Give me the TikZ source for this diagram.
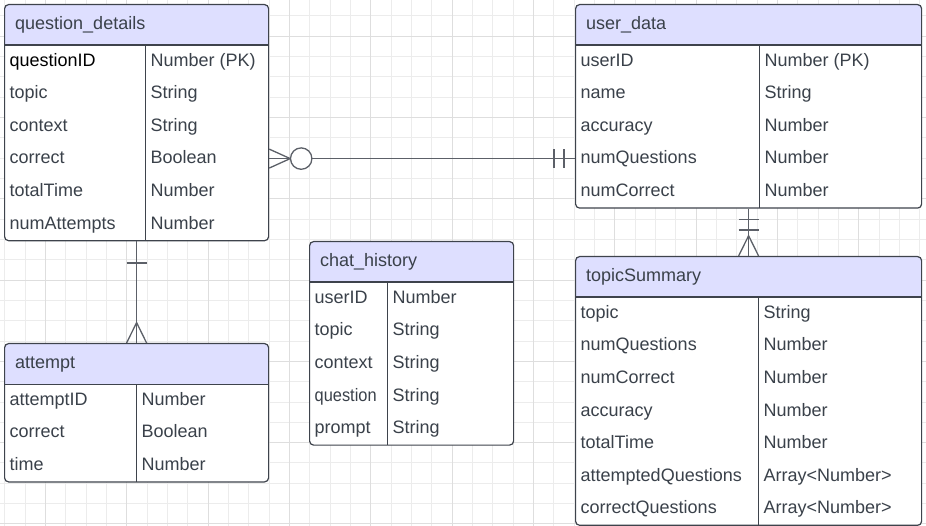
\documentclass[tikz,border=0pt]{standalone}
\usepackage{fontspec}
\setmainfont{Liberation Sans}
\usepackage{xcolor}
\usepackage{tikz}

\definecolor{hdrfill}{RGB}{222,223,255}
\definecolor{edge}{RGB}{62,67,76}
\definecolor{txt}{RGB}{58,65,74}
\definecolor{conncol}{RGB}{92,96,104}
\definecolor{gridminor}{RGB}{236,236,236}
\definecolor{gridmajor}{RGB}{222,222,222}

\begin{document}
\begin{tikzpicture}[x=1pt,y=-1pt,
	erd/.style={rectangle,draw=edge,fill=white,line width=1.2pt,rounded corners=4pt,anchor=north west,inner sep=0pt,
		path picture={
			\fill[hdrfill,sharp corners] (path picture bounding box.north west) rectangle ([yshift=-40.5pt]path picture bounding box.north east);
			\draw[edge,line width=1.2pt] ([yshift=-40.5pt]path picture bounding box.north west) -- ([yshift=-40.5pt]path picture bounding box.north east);
			\draw[edge,line width=1.2pt] ([xshift=#1,yshift=-40.5pt]path picture bounding box.north west) -- ([xshift=#1]path picture bounding box.south west);
		}},
	title/.style={anchor=west,inner sep=0pt,text=txt,font=\fontsize{18pt}{20pt}\selectfont,text height=14.4pt,text depth=3.6pt},
	field/.style={title},
	conn/.style={draw=conncol,line width=1.3pt},
	zero/.style={circle,draw=conncol,fill=white,line width=1.3pt,minimum size=21.4pt,inner sep=0pt},
	gridline/.style={draw=gridminor,line width=1pt},
	gridmajorline/.style={draw=gridmajor,line width=1pt}]

\useasboundingbox (0,0) rectangle (926,526);

% background grid
\foreach \k in {0,...,45} \draw[gridline] ({4.9+\k*20.33},0) -- ({4.9+\k*20.33},526);
\foreach \k in {0,...,26} \draw[gridline] (0,{-4.6+\k*20.33}) -- (926,{-4.6+\k*20.33});
\foreach \k in {2,6,...,42} \draw[gridmajorline] ({4.9+\k*20.33},0) -- ({4.9+\k*20.33},526);
\foreach \k in {2,6,...,26} \draw[gridmajorline] (0,{-4.6+\k*20.33}) -- (926,{-4.6+\k*20.33});

% question_details
\node[erd=141pt,minimum width=264pt,minimum height=236.1pt] (qd) at (4,4) {};
\node[title] (qdTitle) at ([xshift=11pt,yshift=-20.25pt]qd.north west) {question\_details};
\node[field,text=black] (qdF1) at ([xshift=5.5pt,yshift=-56.8pt]qd.north west) {questionID};
\node[field] (qdT1) at ([xshift=146.5pt,yshift=-56.8pt]qd.north west) {Number (PK)};
\foreach \f/\t [count=\i from 2] in {topic/String,context/String,correct/Boolean,totalTime/Number,numAttempts/Number}{
	\node[field] (qdF\i) at ([xshift=5.5pt,yshift={-40.5pt-(\i-0.5)*32.6pt}]qd.north west) {\f};
	\node[field] (qdT\i) at ([xshift=146.5pt,yshift={-40.5pt-(\i-0.5)*32.6pt}]qd.north west) {\t};
}

% user_data
\node[erd=184pt,minimum width=346pt,minimum height=203.5pt] (ud) at (575,4) {};
\node[title] (udTitle) at ([xshift=11pt,yshift=-20.25pt]ud.north west) {user\_data};
\foreach \f/\t [count=\i] in {userID/Number (PK),name/String,accuracy/Number,numQuestions/Number,numCorrect/Number}{
	\node[field] (udF\i) at ([xshift=5.5pt,yshift={-40.5pt-(\i-0.5)*32.6pt}]ud.north west) {\f};
	\node[field] (udT\i) at ([xshift=189.5pt,yshift={-40.5pt-(\i-0.5)*32.6pt}]ud.north west) {\t};
}

% topicSummary
\node[erd=183pt,minimum width=346pt,minimum height=268.7pt] (ts) at (575,256) {};
\node[title] (tsTitle) at ([xshift=11pt,yshift=-20.25pt]ts.north west) {topicSummary};
\foreach \f/\t [count=\i] in {topic/String,numQuestions/Number,numCorrect/Number,accuracy/Number,totalTime/Number,attemptedQuestions/Array<Number>,correctQuestions/Array<Number>}{
	\node[field] (tsF\i) at ([xshift=5.5pt,yshift={-40.5pt-(\i-0.5)*32.6pt}]ts.north west) {\f};
	\node[field] (tsT\i) at ([xshift=188.5pt,yshift={-40.5pt-(\i-0.5)*32.6pt}]ts.north west) {\t};
}

% chat_history
\node[erd=78pt,minimum width=204pt,minimum height=203.5pt] (ch) at (309,241) {};
\node[title] (chTitle) at ([xshift=11pt,yshift=-20.25pt]ch.north west) {chat\_history};
\foreach \f/\t [count=\i] in {userID/Number,topic/String,context/String,{\addfontfeature{FakeStretch=0.91}question}/String,prompt/String}{
	\node[field] (chF\i) at ([xshift=5.5pt,yshift={-40.5pt-(\i-0.5)*32.6pt}]ch.north west) {\f};
	\node[field] (chT\i) at ([xshift=83.5pt,yshift={-40.5pt-(\i-0.5)*32.6pt}]ch.north west) {\t};
}

% attempt
\node[erd=132pt,minimum width=264pt,minimum height=138.3pt] (at) at (4,343) {};
\node[title] (atTitle) at ([xshift=11pt,yshift=-20.25pt]at.north west) {attempt};
\foreach \f/\t [count=\i] in {attemptID/Number,correct/Boolean,time/Number}{
	\node[field] (atF\i) at ([xshift=5.5pt,yshift={-40.5pt-(\i-0.5)*32.6pt}]at.north west) {\f};
	\node[field] (atT\i) at ([xshift=137.5pt,yshift={-40.5pt-(\i-0.5)*32.6pt}]at.north west) {\t};
}

% question_details >o----|| user_data
\coordinate (qdEnd) at (qdF4.west -| qd.east);
\coordinate (udEnd) at (udF4.west -| ud.west);
\draw[conn] (qdEnd) -- (udEnd);
\draw[conn] ([yshift=9.5pt]qdEnd) -- ([xshift=21pt]qdEnd) -- ([yshift=-9.5pt]qdEnd);
\node[zero] (qdZero) at ([xshift=32pt]qdEnd) {};
\draw[conn] ([xshift=-21pt,yshift=9.5pt]udEnd) -- ([xshift=-21pt,yshift=-9.5pt]udEnd);
\draw[conn] ([xshift=-11pt,yshift=9.5pt]udEnd) -- ([xshift=-11pt,yshift=-9.5pt]udEnd);

% question_details |----< attempt
\draw[conn] (qd.south) -- (at.north);
\draw[conn] ([xshift=-10pt,yshift=-21.7pt]qd.south) -- ([xshift=10pt,yshift=-21.7pt]qd.south);
\draw[conn] ([xshift=-10pt]at.north) -- ([yshift=20.4pt]at.north) -- ([xshift=10pt]at.north);

% user_data ||----< topicSummary
\draw[conn] (ud.south) -- (ts.north);
\draw[conn] ([xshift=-10pt,yshift=-11pt]ud.south) -- ([xshift=10pt,yshift=-11pt]ud.south);
\draw[conn] ([xshift=-10pt,yshift=-21.4pt]ud.south) -- ([xshift=10pt,yshift=-21.4pt]ud.south);
\draw[conn] ([xshift=-10pt]ts.north) -- ([yshift=20.3pt]ts.north) -- ([xshift=10pt]ts.north);

\end{tikzpicture}
\end{document}
